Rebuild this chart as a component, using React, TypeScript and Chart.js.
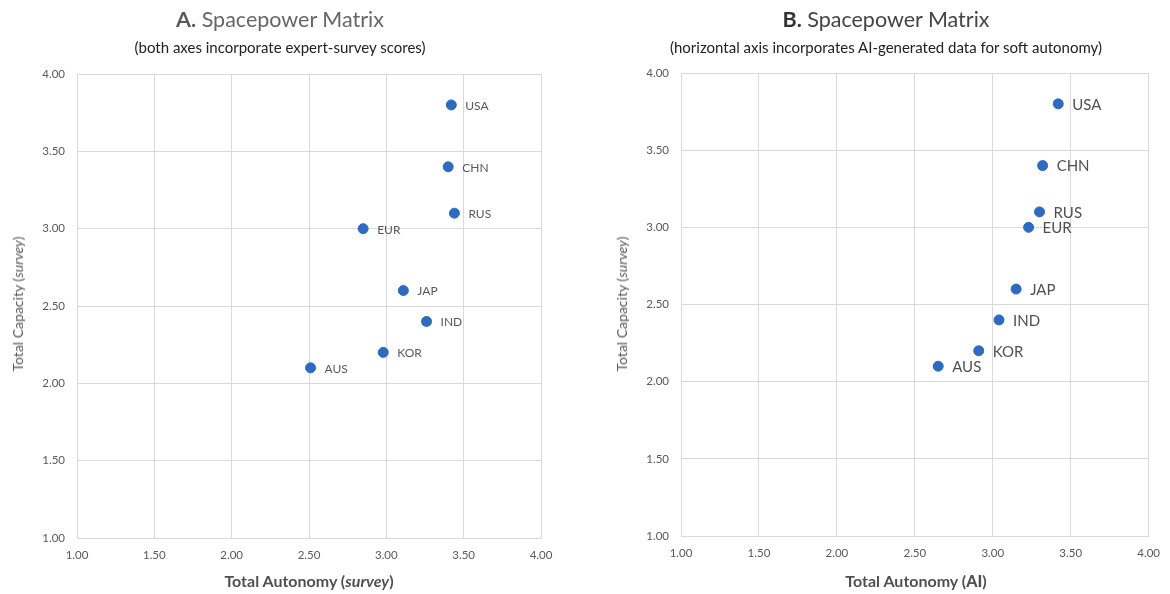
import React, { useEffect, useRef } from "react";
import { Chart, registerables } from "chart.js";

Chart.register(...registerables);

const countries = ["USA", "CHN", "RUS", "EUR", "JAP", "IND", "KOR", "AUS"];
const capacitySurvey = [3.8, 3.4, 3.1, 3.0, 2.6, 2.4, 2.2, 2.1];
const autonomySurvey = [3.42, 3.4, 3.44, 2.85, 3.11, 3.26, 2.98, 2.51];
const autonomyAI = [3.42, 3.32, 3.3, 3.23, 3.15, 3.04, 2.91, 2.65];
const axisMin = 1.0;
const axisMax = 4.0;
const axisStep = 0.5;

const FONT = "Lato, 'Open Sans', sans-serif";

type PanelProps = {
  left: number;
  width: number;
  xs: number[];
  ys: number[];
  area: { l: number; r: number; t: number; b: number };
  labelSize: number;
  labelColor: string;
};

const labelPlugin = (labels: string[], size: number, color: string) => ({
  id: "pointLabels",
  afterDatasetsDraw(chart: any) {
    const ctx = chart.ctx;
    const meta = chart.getDatasetMeta(0);
    ctx.save();
    ctx.font = `${size}px ${FONT}`;
    ctx.fillStyle = color;
    ctx.textAlign = "left";
    ctx.textBaseline = "middle";
    meta.data.forEach((pt: any, i: number) => {
      ctx.fillText(labels[i], pt.x + 14, pt.y + 1);
    });
    ctx.restore();
  },
});

function Panel({ left, width, xs, ys, area, labelSize, labelColor }: PanelProps) {
  const ref = useRef<HTMLCanvasElement>(null);
  useEffect(() => {
    if (!ref.current) return;
    const data = xs.map((x, i) => ({ x, y: ys[i] }));
    const chart = new Chart(ref.current, {
      type: "scatter",
      data: {
        datasets: [
          {
            data,
            backgroundColor: "#2E6BC0",
            borderColor: "#2E6BC0",
            pointRadius: 5,
            pointHoverRadius: 5,
          },
        ],
      },
      options: {
        animation: false,
        responsive: false,
        maintainAspectRatio: false,
        events: [],
        layout: {
          padding: { left: 0, right: width - area.r, top: area.t, bottom: 0 },
        },
        plugins: {
          legend: { display: false },
          tooltip: { enabled: false },
          title: { display: false },
        },
        scales: {
          x: {
            type: "linear",
            min: axisMin,
            max: axisMax,
            ticks: {
              stepSize: axisStep,
              padding: 10,
              color: "#595959",
              font: { family: FONT, size: 11.5 },
              callback: (v: any) => Number(v).toFixed(2),
            },
            grid: { color: "#d9d9d9", lineWidth: 1, drawTicks: false },
            border: { color: "#d9d9d9" },
            afterFit: (s: any) => {
              s.height = 594 - area.b;
            },
          },
          y: {
            type: "linear",
            min: axisMin,
            max: axisMax,
            ticks: {
              stepSize: axisStep,
              padding: 12,
              color: "#595959",
              font: { family: FONT, size: 11.5 },
              callback: (v: any) => Number(v).toFixed(2),
            },
            grid: { color: "#d9d9d9", lineWidth: 1, drawTicks: false },
            border: { color: "#d9d9d9" },
            afterFit: (s: any) => {
              s.width = area.l;
            },
          },
        },
      },
      plugins: [labelPlugin(countries, labelSize, labelColor)],
    } as any);
    return () => chart.destroy();
  }, []);
  return (
    <canvas
      ref={ref}
      width={width}
      height={594}
      style={{ position: "absolute", left, top: 0, width, height: 594 }}
    />
  );
}

const abs = (extra: React.CSSProperties): React.CSSProperties => ({
  position: "absolute",
  whiteSpace: "nowrap",
  fontFamily: FONT,
  transform: "translate(-50%, -50%)",
  lineHeight: 1,
  ...extra,
});

export default function App() {
  return (
    <div
      style={{
        position: "fixed",
        left: 0,
        top: 0,
        width: 1170,
        height: 594,
        background: "#fff",
        overflow: "hidden",
      }}
    >
      <Panel
        left={0}
        width={590}
        xs={autonomySurvey}
        ys={capacitySurvey}
        area={{ l: 77, r: 541, t: 74, b: 538 }}
        labelSize={12}
        labelColor="#595959"
      />
      <Panel
        left={590}
        width={580}
        xs={autonomyAI}
        ys={capacitySurvey}
        area={{ l: 91, r: 560, t: 73, b: 536 }}
        labelSize={15}
        labelColor="#505050"
      />

      {/* Panel A texts */}
      <div style={abs({ left: 280, top: 20, fontSize: 21.5, color: "#666" })}>
        <b style={{ color: "#595959" }}>A.</b> Spacepower Matrix
      </div>
      <div style={abs({ left: 280, top: 47, fontSize: 15, color: "#222" })}>
        (both axes incorporate expert-survey scores)
      </div>
      <div style={abs({ left: 309, top: 581, fontSize: 16, fontWeight: 700, color: "#505050" })}>
        Total Autonomy (<i>survey</i>)
      </div>
      <div
        style={abs({
          left: 18,
          top: 304,
          fontSize: 14,
          color: "#595959",
          transform: "translate(-50%, -50%) rotate(-90deg)",
        })}
      >
        Total Capacity (<i>survey</i>)
      </div>

      {/* Panel B texts */}
      <div style={abs({ left: 886, top: 20, fontSize: 21.5, color: "#444" })}>
        <b style={{ color: "#333" }}>B.</b> Spacepower Matrix
      </div>
      <div style={abs({ left: 886, top: 47, fontSize: 15, color: "#222" })}>
        (horizontal axis incorporates AI-generated data for soft autonomy)
      </div>
      <div style={abs({ left: 916, top: 581, fontSize: 16, fontWeight: 700, color: "#505050" })}>
        Total Autonomy (<b>AI</b>)
      </div>
      <div
        style={abs({
          left: 622,
          top: 304,
          fontSize: 14,
          color: "#595959",
          transform: "translate(-50%, -50%) rotate(-90deg)",
        })}
      >
        Total Capacity (<i>survey</i>)
      </div>
    </div>
  );
}
